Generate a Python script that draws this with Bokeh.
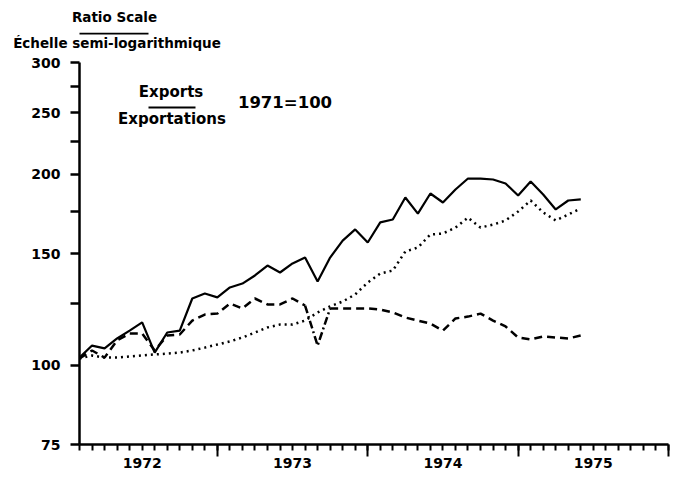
import math
from bokeh.plotting import figure
from bokeh.models import FixedTicker, LinearAxis, Label, BoxAnnotation, PrintfTickFormatter
from bokeh.embed import file_html
from bokeh.resources import INLINE

months = list(range(1, 42))
solid = [102.8, 107.4, 106.3, 110.2, 113.4, 116.8, 104.7, 112.6, 113.4, 127.4,
         129.7, 127.9, 132.6, 134.5, 138.5, 143.6, 140.0, 144.7, 147.8, 135.5,
         147.8, 157.2, 163.7, 156.1, 167.9, 169.7, 183.8, 173.4, 186.5, 180.5,
         189.2, 196.9, 196.9, 196.2, 193.4, 185.1, 194.8, 185.8, 176.0, 181.8, 182.5]
dotted = [102.5, 103.6, 102.8, 102.8, 103.2, 103.6, 104.0, 104.3, 104.7, 105.5,
          106.6, 107.8, 109.0, 110.6, 112.6, 114.7, 115.9, 115.9, 117.6, 121.1,
          123.8, 126.0, 129.3, 135.0, 139.5, 141.0, 151.1, 153.3, 160.7, 161.3,
          164.8, 170.9, 164.8, 166.6, 169.1, 174.7, 181.8, 174.1, 169.1, 172.8, 176.6]
dashed = [102.5, 105.5, 102.8, 109.4, 112.2, 112.2, 105.5, 111.4, 111.8, 117.6,
          120.2, 120.6, 125.1, 122.9, 127.4, 124.7, 124.7, 127.4, 124.2, 107.4,
          122.9, 122.9, 122.9, 122.9, 122.4, 121.1, 118.9, 117.6, 116.3, 113.4,
          118.5, 119.3, 120.6, 117.6, 115.1, 110.6, 109.8, 111.0, 110.6, 110.2, 111.4]

y_ticks = [75, 100, 150, 200, 250, 300]
y_minor = [125, 175, 225, 275]
year_bounds = [12, 24, 36, 48]
year_mid = [6, 18, 30, 42]
year_labels = ["1972", "1973", "1974", "1975"]

FONT = "DejaVu Sans"

# layout (page pixels): axis 75..300 spans y 444..62, frame extends up to y=T
T = 32
AX_TOP, AX_BOT = 62, 444
k = math.log(y_ticks[-1] / y_ticks[0]) / (AX_BOT - AX_TOP)
y_end = y_ticks[-1] * math.exp((AX_TOP - T) * k)

p = figure(frame_width=589, frame_height=AX_BOT - T, y_axis_type="log",
           x_range=(1, 48), y_range=(y_ticks[0], y_end),
           output_backend="svg", toolbar_location=None,
           min_border_left=79, min_border_top=T, min_border_right=14, min_border_bottom=0)
p.grid.visible = False
p.outline_line_color = None
p.background_fill_color = "white"
p.border_fill_color = "white"

ya = p.yaxis[0]
ya.bounds = (y_ticks[0], y_ticks[-1])
ya.ticker = FixedTicker(ticks=y_ticks, minor_ticks=y_minor)
ya.formatter = PrintfTickFormatter(format="%d")
ya.axis_line_width = 2.5
ya.major_tick_line_width = 2.5
ya.minor_tick_line_width = 2.5
ya.major_tick_out = 9
ya.major_tick_in = 0
ya.minor_tick_out = 9
ya.minor_tick_in = 0
ya.major_label_standoff = 10
ya.major_label_text_font = FONT
ya.major_label_text_font_style = "bold"
ya.major_label_text_font_size = "14px"
ya.major_label_text_color = "black"

xa = p.xaxis[0]
xa.ticker = FixedTicker(ticks=year_bounds, minor_ticks=list(range(1, 49)))
xa.axis_line_width = 2.5
xa.major_tick_line_width = 2
xa.minor_tick_line_width = 2
xa.major_tick_out = 12
xa.major_tick_in = 0
xa.minor_tick_out = 6
xa.minor_tick_in = 0
xa.major_label_text_color = None
xa.major_label_standoff = 0

xl = LinearAxis(ticker=FixedTicker(ticks=year_mid),
                major_label_overrides={m: t for m, t in zip(year_mid, year_labels)})
xl.axis_line_color = None
xl.major_tick_line_color = None
xl.minor_tick_line_color = None
xl.major_label_standoff = -5
xl.major_label_text_font = FONT
xl.major_label_text_font_style = "bold"
xl.major_label_text_font_size = "14px"
xl.major_label_text_color = "black"
p.add_layout(xl, "below")

p.line(months, solid, line_color="black", line_width=2.2)
p.line(months, dotted, line_color="black", line_width=2.5, line_dash="2 4")
p.line(months[:19], dashed[:19], line_color="black", line_width=2.5, line_dash="8 5")
p.line(months[18:21], dashed[18:21], line_color="black", line_width=2.5, line_dash="8 3 2 3")
p.line(months[20:], dashed[20:], line_color="black", line_width=2.5, line_dash="8 5")

# page coords -> screen coords (frame left 79, frame bottom 444)
def sx(px):
    return px - 79

def sy(py):
    return AX_BOT - py

def lab(text, x, y, size, place=None):
    lbl = Label(x=sx(x), y=y, x_units="screen", y_units="screen", text=text,
                text_font=FONT, text_font_style="bold", text_font_size=size,
                text_align="center", text_baseline="middle", text_color="black")
    if place:
        p.add_layout(lbl, place)
    else:
        p.add_layout(lbl)

def rule(x0, x1, y0, y1):
    p.add_layout(BoxAnnotation(left=sx(x0), right=sx(x1), top=sy(y0), bottom=sy(y1),
                               left_units="screen", right_units="screen",
                               top_units="screen", bottom_units="screen",
                               fill_color="black", fill_alpha=1, line_color=None))

lab("Exports", 170.5, sy(91), "15px")
lab("Exportations", 171.5, sy(118), "15px")
lab("1971=100", 284.5, sy(102), "16.5px")
rule(148, 195, 106, 108)

# caption above the axis: labels stacked in the top panel (each panel ~16px high)
lab("Échelle semi-logarithmique", 116.5, T - 42, "13.5px", "above")
lab("Ratio Scale", 114, (T - 16) - 16, "13.5px", "above")
rule(72, 148, T, T + 2)

open("out.html", "w").write(file_html(p, INLINE))
